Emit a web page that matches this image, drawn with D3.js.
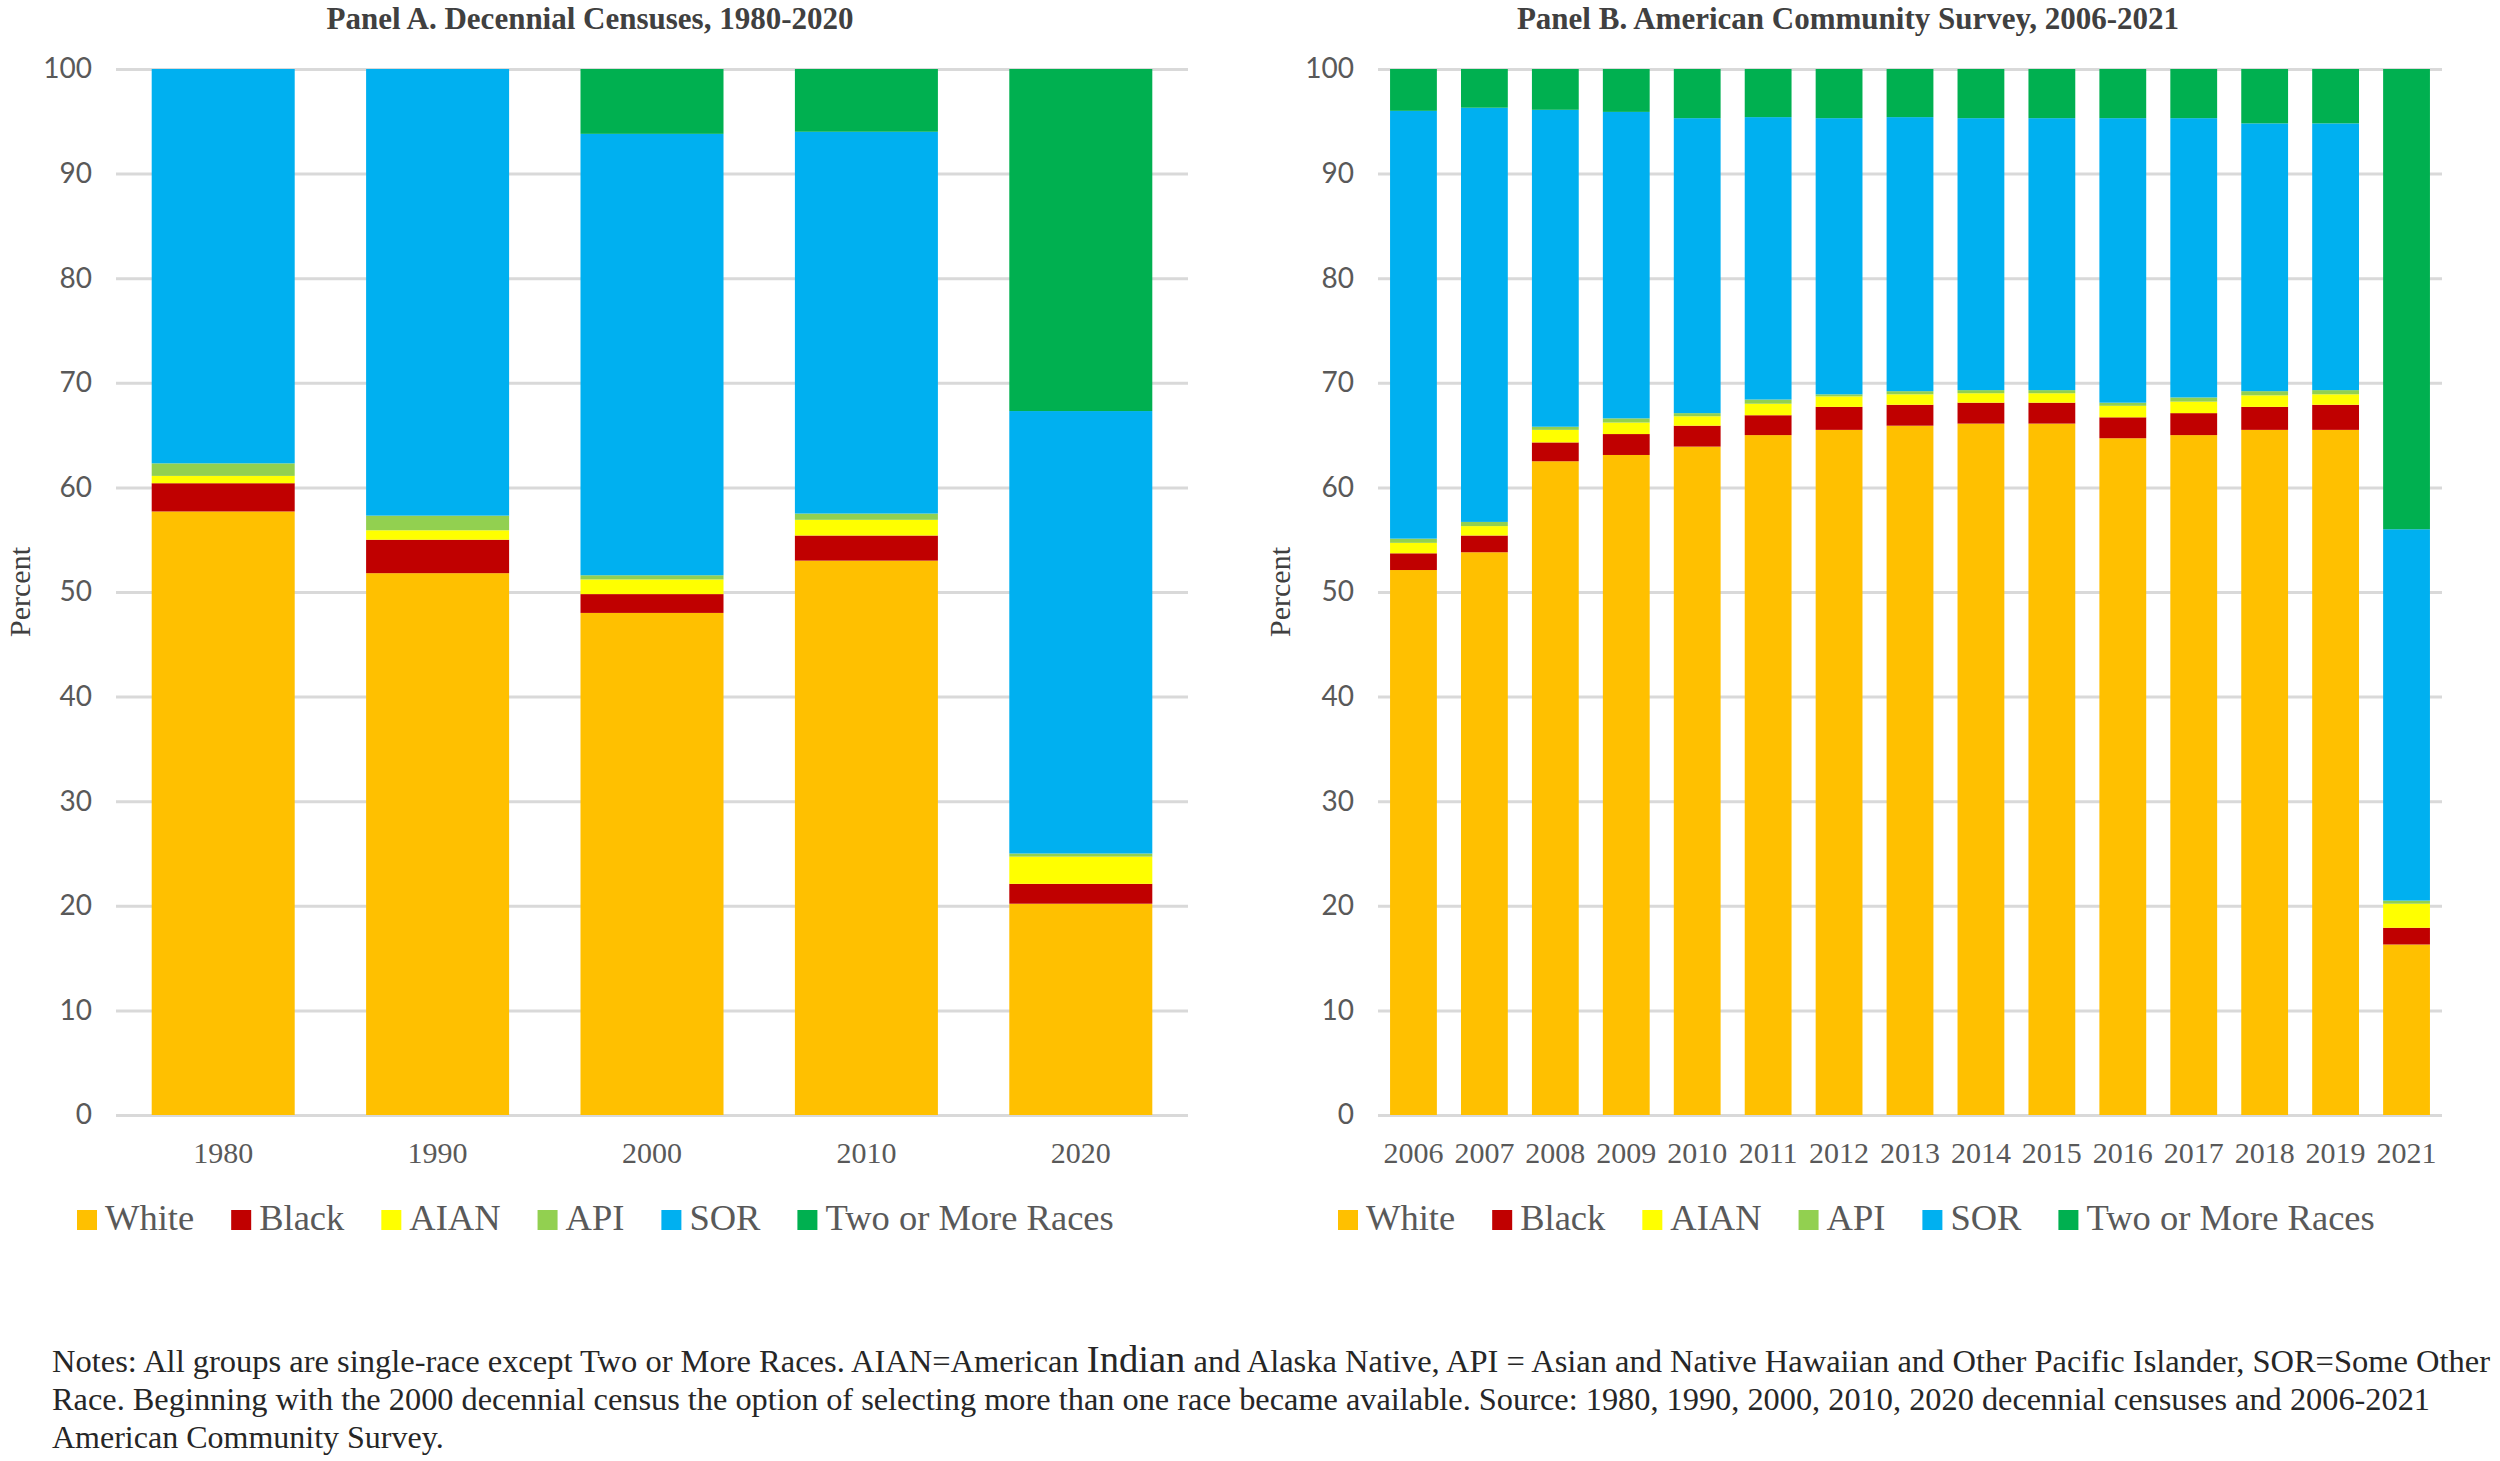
<!DOCTYPE html>
<html>
<head>
<meta charset="utf-8">
<script src="https://d3js.org/d3.v7.min.js"></script>
<style>
  body { margin: 0; background: #fff; }
  .grid line { stroke: #d9d9d9; stroke-width: 3; }
  .grid .domain, .ylab .domain, .xlab .domain { display: none; }
  .ylab text { font-family: Lato, "Open Sans", sans-serif; font-size: 28px; fill: #595959; }
  .xlab text { font-family: "Liberation Serif", "Times New Roman", serif; font-size: 30px; fill: #595959; }
  .title { font-family: "Liberation Serif", "Times New Roman", serif; font-weight: bold; font-size: 31px; fill: #404040; }
  .ytitle { font-family: "Liberation Serif", "Times New Roman", serif; font-size: 30px; fill: #404040; }
  .legend text { font-family: "Liberation Serif", "Times New Roman", serif; font-size: 36.5px; fill: #595959; }
  .notes { font-family: "Liberation Serif", "Times New Roman", serif; font-size: 32px; fill: #262626; }
</style>
</head>
<body>
<div id="chart"></div>
<script>

// series order, bottom to top
var races = ["White", "Black", "AIAN", "API", "SOR", "Two or More Races"];
var raceColors = ["#FFC000", "#C00000", "#FFFF00", "#92D050", "#00B0F0", "#00B050"];

var percentTicks = [0, 10, 20, 30, 40, 50, 60, 70, 80, 90, 100];

// Panel A - decennial censuses
var censusYears = ["1980", "1990", "2000", "2010", "2020"];
var censusWhite = [57.7, 51.8, 48.0, 53.0, 20.2];
var censusBlack = [2.7, 3.2, 1.8, 2.4, 1.9];
var censusAian  = [0.7, 0.9, 1.4, 1.5, 2.6];
var censusApi   = [1.2, 1.4, 0.4, 0.6, 0.3];
var censusSor   = [37.7, 42.7, 42.2, 36.5, 42.3];
var censusTwo   = [0, 0, 6.2, 6.0, 32.7];

// Panel B - American Community Survey
var acsYears = ["2006", "2007", "2008", "2009", "2010", "2011", "2012", "2013",
                "2014", "2015", "2016", "2017", "2018", "2019", "2021"];
var acsWhite = [52.1, 53.8, 62.5, 63.1, 63.9, 65.0, 65.5, 65.9, 66.1, 66.1, 64.7, 65.0, 65.5, 65.5, 16.3];
var acsBlack = [1.6, 1.6, 1.8, 2.0, 2.0, 1.9, 2.2, 2.0, 2.0, 2.0, 2.0, 2.1, 2.2, 2.4, 1.6];
var acsAian  = [1.0, 0.9, 1.2, 1.1, 0.9, 1.1, 1.0, 1.0, 0.9, 0.9, 1.1, 1.1, 1.1, 1.0, 2.3];
var acsApi   = [0.4, 0.4, 0.3, 0.4, 0.3, 0.4, 0.2, 0.3, 0.3, 0.3, 0.3, 0.4, 0.4, 0.4, 0.3];
var acsSor   = [40.9, 39.6, 30.3, 29.3, 28.2, 27.0, 26.4, 26.2, 26.0, 26.0, 27.2, 26.7, 25.6, 25.5, 35.5];
var acsTwo   = [4.0, 3.7, 3.9, 4.1, 4.7, 4.6, 4.7, 4.6, 4.7, 4.7, 4.7, 4.7, 5.2, 5.2, 44.0];

var noteLines = [
  ["Notes: All groups are single-race except Two or More Races. AIAN=American ", "Indian",
   " and Alaska Native, API = Asian and Native Hawaiian and Other Pacific Islander, SOR=Some Other"],
  ["Race. Beginning with the 2000 decennial census the option of selecting more than one race became available. Source: 1980, 1990, 2000, 2010, 2020 decennial censuses and 2006-2021"],
  ["American Community Survey."]
];


StackedBar = function(_svg, _box, _title, _years, _series) {
  this.svg = _svg;
  this.box = _box;
  this.title = _title;
  this.years = _years;
  this.series = _series;

  this.initVis();
}

StackedBar.prototype.initVis = function() {
  var vis = this;

  vis.width = vis.box.width;
  vis.height = vis.box.height;

  vis.g = vis.svg.append("g")
    .attr("transform", "translate(" + vis.box.left + "," + vis.box.top + ")");

  vis.xScale = d3.scaleBand()
    .domain(vis.years)
    .range([0, vis.width])
    .paddingInner(vis.box.gap)
    .paddingOuter(vis.box.gap / 2);

  vis.yScale = d3.scaleLinear()
    .domain([0, 100])
    .range([vis.height, 0]);

  vis.g.append("g")
    .attr("class", "grid")
    .call(d3.axisLeft(vis.yScale).tickValues(percentTicks).tickSize(-vis.width).tickFormat(""));

  vis.g.append("g")
    .attr("class", "ylab")
    .call(d3.axisLeft(vis.yScale).tickValues(percentTicks).tickSize(0).tickPadding(24));

  vis.g.append("g")
    .attr("class", "xlab")
    .attr("transform", "translate(0," + vis.height + ")")
    .call(d3.axisBottom(vis.xScale).tickSize(0).tickPadding(27));

  vis.g.append("text")
    .attr("class", "title")
    .attr("x", vis.box.titleX)
    .attr("y", 29 - vis.box.top)
    .attr("text-anchor", "middle")
    .text(vis.title);

  vis.g.append("text")
    .attr("class", "ytitle")
    .attr("transform", "translate(" + vis.box.percentX + "," + vis.height / 2 + ") rotate(-90)")
    .attr("text-anchor", "middle")
    .attr("dy", "0.35em")
    .text("Percent");

  vis.updateVis();
  vis.drawLegend();
}

StackedBar.prototype.updateVis = function() {
  var vis = this;

  var rows = vis.years.map((y, i) => ({year: y, values: vis.series.map(s => s[i])}));

  var stack = d3.stack()
    .keys(d3.range(races.length))
    .value((d, k) => d.values[k]);

  var layers = vis.g.selectAll(".layer")
    .data(stack(rows))
    .enter().append("g")
    .attr("class", "layer")
    .attr("fill", d => raceColors[d.key]);

  layers.selectAll("rect")
    .data(d => d)
    .enter().append("rect")
    .attr("x", d => vis.xScale(d.data.year))
    .attr("y", d => vis.yScale(d[1]))
    .attr("width", vis.xScale.bandwidth())
    .attr("height", d => vis.yScale(d[0]) - vis.yScale(d[1]));
}

StackedBar.prototype.drawLegend = function() {
  var vis = this;

  var leg = vis.svg.append("g")
    .attr("class", "legend")
    .attr("transform", "translate(" + vis.box.legendX + ",1210)");

  var x = 0;
  races.forEach(function(r, i) {
    leg.append("rect")
      .attr("x", x).attr("y", 0)
      .attr("width", 20).attr("height", 20)
      .attr("fill", raceColors[i]);
    var t = leg.append("text")
      .attr("x", x + 28).attr("y", 20)
      .text(r);
    x += 28 + t.node().getComputedTextLength() + 37;
  });
}


var svg = d3.select("#chart").append("svg")
  .attr("width", 2500)
  .attr("height", 1461);

var panelA = new StackedBar(svg,
  {left: 116, top: 69, width: 1072, height: 1046, gap: 0.333, titleX: 474, percentX: -97, legendX: 77},
  "Panel A. Decennial Censuses, 1980-2020",
  censusYears,
  [censusWhite, censusBlack, censusAian, censusApi, censusSor, censusTwo]);

var panelB = new StackedBar(svg,
  {left: 1378, top: 69, width: 1064, height: 1046, gap: 0.34, titleX: 470, percentX: -99, legendX: 1338},
  "Panel B. American Community Survey, 2006-2021",
  acsYears,
  [acsWhite, acsBlack, acsAian, acsApi, acsSor, acsTwo]);

// notes under the panels
var noteBase = [1372, 1410, 1448];
var noteWidth = [2438, 2378, null];
noteLines.forEach(function(parts, i) {
  var t = svg.append("text")
    .attr("class", "notes")
    .attr("x", 52)
    .attr("y", noteBase[i]);
  parts.forEach(function(p, j) {
    var s = t.append("tspan").text(p);
    if (p == "Indian") s.style("font-size", "38px");
  });
  if (noteWidth[i]) {
    t.attr("textLength", noteWidth[i]).attr("lengthAdjust", "spacingAndGlyphs");
  }
});

</script>
</body>
</html>
